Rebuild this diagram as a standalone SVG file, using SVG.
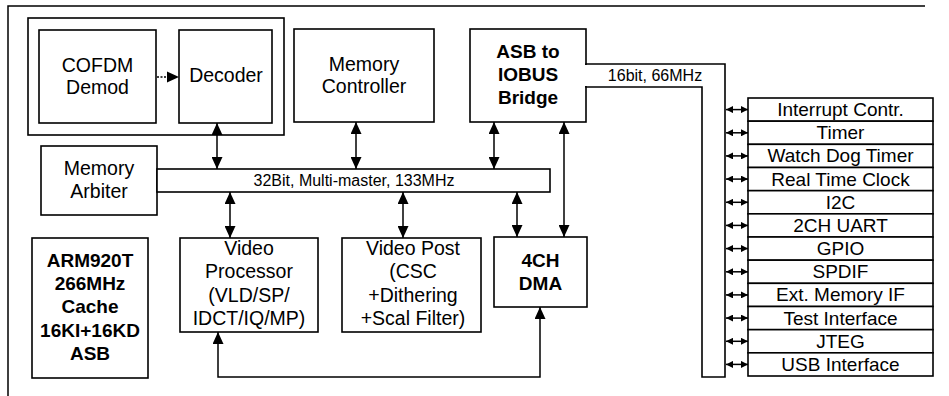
<svg xmlns="http://www.w3.org/2000/svg" width="949" height="396" viewBox="0 0 949 396">
  <style>
    .box { fill: #fff; stroke: #000; stroke-width: 1.6; }
    .ln { fill: none; stroke: #000; stroke-width: 1.5; }
    .t { font-family: "Liberation Sans", Arial, sans-serif; font-size: 19.5px; fill: #000; text-anchor: middle; }
    .b { font-weight: bold; font-size: 19px; }
    .p { font-size: 19px; }
    .s { font-size: 16px; }
  </style>
  <defs>
    <marker id="ah" markerUnits="userSpaceOnUse" markerWidth="12" markerHeight="11" refX="12" refY="5.5" orient="auto-start-reverse">
      <path d="M0,0 L12,5.5 L0,11 z" fill="#000"/>
    </marker>
    <marker id="sah" markerUnits="userSpaceOnUse" markerWidth="7" markerHeight="7" refX="7" refY="3.5" orient="auto-start-reverse">
      <path d="M0,0 L7,3.5 L0,7 z" fill="#000"/>
    </marker>
  </defs>

  <rect width="949" height="396" fill="#fff"/>

  <!-- outer frame (top and left edges) -->
  <path class="ln" d="M8,396 V6 H925"/>

  <!-- demodulator / decoder group -->
  <g id="frontend">
    <rect class="box" x="28" y="18" width="256" height="117"/>
  </g>
  <g id="cofdm">
    <rect class="box" x="39" y="30" width="117" height="93"/>
    <text class="t" x="97.5" y="72">COFDM</text>
    <text class="t" x="97.5" y="94">Demod</text>
  </g>
  <g id="decoder">
    <rect class="box" x="179" y="30" width="93" height="93"/>
    <text class="t" x="226" y="82">Decoder</text>
  </g>
  <g id="memctrl">
    <rect class="box" x="294" y="29" width="140" height="93"/>
    <text class="t" x="364" y="71">Memory</text>
    <text class="t" x="364" y="93">Controller</text>
  </g>
  <g id="bridge">
    <rect class="box" x="470" y="29" width="116" height="93"/>
    <text class="t b" x="528" y="58">ASB to</text>
    <text class="t b" x="528" y="81">IOBUS</text>
    <text class="t b" x="528" y="104">Bridge</text>
  </g>
  <g id="arbiter">
    <rect class="box" x="41" y="146" width="116" height="69"/>
    <text class="t" x="99" y="175">Memory</text>
    <text class="t" x="99" y="198">Arbiter</text>
  </g>
  <g id="asb-bus">
    <rect class="box" x="157" y="169" width="393" height="23"/>
    <text class="t s" x="354" y="186">32Bit, Multi-master, 133MHz</text>
  </g>
  <g id="arm">
    <rect class="box" x="32" y="238" width="116" height="140"/>
    <text class="t b" x="90" y="267">ARM920T</text>
    <text class="t b" x="90" y="290">266MHz</text>
    <text class="t b" x="90" y="313">Cache</text>
    <text class="t b" x="90" y="337">16KI+16KD</text>
    <text class="t b" x="90" y="360">ASB</text>
  </g>
  <g id="vproc">
    <rect class="box" x="180" y="238" width="138" height="94"/>
    <text class="t" x="249" y="255">Video</text>
    <text class="t" x="249" y="278">Processor</text>
    <text class="t" x="249" y="302">(VLD/SP/</text>
    <text class="t" x="249" y="325">IDCT/IQ/MP)</text>
  </g>
  <g id="vpost">
    <rect class="box" x="342" y="238" width="139" height="94"/>
    <text class="t" x="413" y="255">Video Post</text>
    <text class="t" x="413" y="278">(CSC</text>
    <text class="t" x="413" y="302">+Dithering</text>
    <text class="t" x="413" y="325">+Scal Filter)</text>
  </g>
  <g id="dma">
    <rect class="box" x="494" y="237" width="93" height="70"/>
    <text class="t b" x="540.5" y="267">4CH</text>
    <text class="t b" x="540.5" y="290">DMA</text>
  </g>

  <!-- IO bus -->
  <g id="io-bus">
    <path class="box" d="M586,64 H725 V377 H702 V87 H586 Z"/>
    <path d="M586,65 V86" stroke="#fff" stroke-width="2"/>
    <text class="t s" x="655" y="81">16bit, 66MHz</text>
  </g>

  <!-- peripherals -->
  <g id="peripherals">
    <g id="p-intc"><rect class="box" x="748" y="98" width="185" height="23.17"/><text class="t p" x="840.5" y="116">Interrupt Contr.</text></g>
    <g id="p-timer"><rect class="box" x="748" y="121.17" width="185" height="23.17"/><text class="t p" x="840.5" y="139">Timer</text></g>
    <g id="p-wdt"><rect class="box" x="748" y="144.33" width="185" height="23.17"/><text class="t p" x="840.5" y="162">Watch Dog Timer</text></g>
    <g id="p-rtc"><rect class="box" x="748" y="167.5" width="185" height="23.17"/><text class="t p" x="840.5" y="185.5">Real Time Clock</text></g>
    <g id="p-i2c"><rect class="box" x="748" y="190.67" width="185" height="23.17"/><text class="t p" x="840.5" y="208.5">I2C</text></g>
    <g id="p-uart"><rect class="box" x="748" y="213.83" width="185" height="23.17"/><text class="t p" x="840.5" y="231.5">2CH UART</text></g>
    <g id="p-gpio"><rect class="box" x="748" y="237" width="185" height="23.17"/><text class="t p" x="840.5" y="255">GPIO</text></g>
    <g id="p-spdif"><rect class="box" x="748" y="260.17" width="185" height="23.17"/><text class="t p" x="840.5" y="278">SPDIF</text></g>
    <g id="p-extmem"><rect class="box" x="748" y="283.33" width="185" height="23.17"/><text class="t p" x="840.5" y="301">Ext. Memory IF</text></g>
    <g id="p-test"><rect class="box" x="748" y="306.5" width="185" height="23.17"/><text class="t p" x="840.5" y="324.5">Test Interface</text></g>
    <g id="p-jtag"><rect class="box" x="748" y="329.67" width="185" height="23.17"/><text class="t p" x="840.5" y="347.5">JTEG</text></g>
    <g id="p-usb"><rect class="box" x="748" y="352.83" width="185" height="23.17"/><text class="t p" x="840.5" y="370.5">USB Interface</text></g>
  </g>

  <!-- connectors -->
  <g id="connectors">
    <path d="M157,77 H168" stroke="#000" stroke-width="1.5" stroke-dasharray="2,1.5"/>
    <path d="M167,71.5 L179,77 L167,82.5 z" fill="#000"/>

    <path class="ln" d="M217,123 V169" marker-start="url(#ah)" marker-end="url(#ah)"/>
    <path class="ln" d="M356,122 V169" marker-start="url(#ah)" marker-end="url(#ah)"/>
    <path class="ln" d="M494,122 V169" marker-start="url(#ah)" marker-end="url(#ah)"/>
    <path class="ln" d="M564,122 V237" marker-start="url(#ah)" marker-end="url(#ah)"/>
    <path class="ln" d="M230,192 V238" marker-start="url(#ah)" marker-end="url(#ah)"/>
    <path class="ln" d="M403,192 V238" marker-start="url(#ah)" marker-end="url(#ah)"/>
    <path class="ln" d="M517,192 V237" marker-start="url(#ah)" marker-end="url(#ah)"/>
    <path class="ln" d="M218,332 V377 H540 V307" marker-start="url(#ah)" marker-end="url(#ah)"/>

    <g class="io-links">
      <path class="ln" d="M726,109.6 H748" marker-start="url(#sah)" marker-end="url(#sah)"/>
      <path class="ln" d="M726,132.8 H748" marker-start="url(#sah)" marker-end="url(#sah)"/>
      <path class="ln" d="M726,155.9 H748" marker-start="url(#sah)" marker-end="url(#sah)"/>
      <path class="ln" d="M726,179.1 H748" marker-start="url(#sah)" marker-end="url(#sah)"/>
      <path class="ln" d="M726,202.3 H748" marker-start="url(#sah)" marker-end="url(#sah)"/>
      <path class="ln" d="M726,225.4 H748" marker-start="url(#sah)" marker-end="url(#sah)"/>
      <path class="ln" d="M726,248.6 H748" marker-start="url(#sah)" marker-end="url(#sah)"/>
      <path class="ln" d="M726,271.8 H748" marker-start="url(#sah)" marker-end="url(#sah)"/>
      <path class="ln" d="M726,294.9 H748" marker-start="url(#sah)" marker-end="url(#sah)"/>
      <path class="ln" d="M726,318.1 H748" marker-start="url(#sah)" marker-end="url(#sah)"/>
      <path class="ln" d="M726,341.3 H748" marker-start="url(#sah)" marker-end="url(#sah)"/>
      <path class="ln" d="M726,364.4 H748" marker-start="url(#sah)" marker-end="url(#sah)"/>
    </g>
  </g>
</svg>
